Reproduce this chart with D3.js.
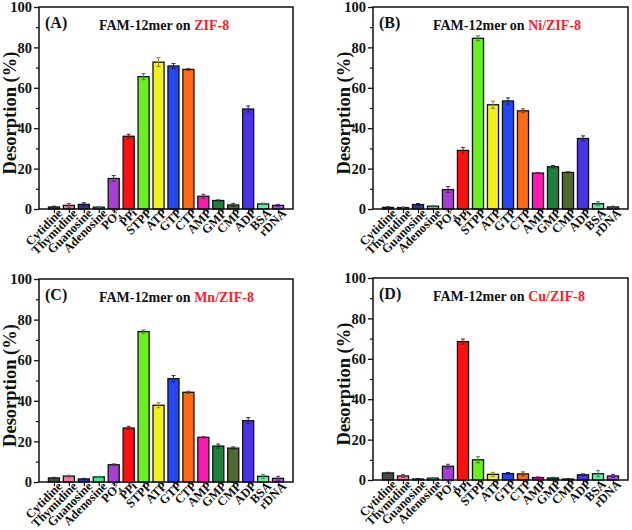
<!DOCTYPE html>
<html><head><meta charset="utf-8">
<script src="https://cdn.jsdelivr.net/npm/d3@7/dist/d3.min.js"></script>
<style>body{margin:0;background:#fff}svg{display:block}text{font-family:"Liberation Serif","Times New Roman",serif;font-weight:bold}</style>
</head><body>
<script>
const categories = ["Cytidine","Thymidine","Guanosine","Adenosine","PO4","PPi","STPP","ATP","GTP","CTP","AMP","GMP","CMP","ADP","BSA","rDNA"];
const barColors = ["#4a4a4a","#f27a9c","#3a2cb0","#3fe6a0","#a63fd4","#ff1010","#6af01e","#f2f020","#2446f4","#ff6a14","#ff18b4","#1f7f3c","#4f6a2e","#4a34e8","#56f5a4","#a552e6"];
const panelLetters = ["(A)","(B)","(C)","(D)"];
const materials = ["ZIF-8","Ni/ZIF-8","Mn/ZIF-8","Cu/ZIF-8"];
const valuesA = [1.0,1.8,2.3,0.9,15.1,36.0,65.5,72.7,70.8,69.1,6.3,4.2,2.0,49.5,2.5,1.8];
const errorsA = [0.4,0.9,0.8,0.3,1.5,1.0,1.5,2.2,1.2,0.5,1.0,0.3,0.8,1.5,0.4,0.5];
const valuesB = [0.8,0.7,2.2,1.4,9.6,29.0,84.5,51.6,53.5,48.6,17.8,20.9,18.1,34.9,2.6,1.0];
const errorsB = [0.3,0.3,0.5,0.3,1.5,1.5,1.2,1.8,1.5,1.0,0.3,0.6,0.3,1.3,1.0,0.4];
const valuesC = [2.0,2.9,1.5,2.5,8.5,26.6,74.1,37.8,50.9,44.2,22.0,17.7,16.7,30.2,2.8,1.8];
const errorsC = [0.3,0.4,0.3,0.3,0.4,0.8,0.8,1.2,1.5,0.5,0.3,1.0,0.6,1.5,1.0,1.0];
const valuesD = [3.5,2.0,0.5,0.9,6.8,68.5,10.0,2.8,3.2,3.0,1.2,1.0,0.5,2.6,3.1,2.0];
const errorsD = [0.3,0.8,0.2,0.3,1.0,1.3,1.5,1.0,0.5,1.0,0.3,0.3,0.2,0.4,1.5,0.8];
const yTicks = [0,20,40,60,80,100];
const yMinorTicks = [10,30,50,70,90];

const series = [[valuesA,errorsA],[valuesB,errorsB],[valuesC,errorsC],[valuesD,errorsD]];
const frames = [[39,7,293,209],[373,7,628,209],[39,279,293,482],[373,278,628,480]];

const svg = d3.select("body").append("svg").attr("width",632).attr("height",530);

series.forEach(([vals,errs],pi)=>{
  const [L,T,R,B] = frames[pi];
  const g = svg.append("g");
  const x = d3.scalePoint().domain(categories).range([L,R]).padding(1);
  const y = d3.scaleLinear().domain([0,100]).range([B,T]);
  const bw = x.step()*0.74;
  const data = categories.map((c,i)=>({c,v:vals[i],e:errs[i],col:barColors[i]}));

  g.selectAll("rect.bar").data(data).join("rect")
    .attr("x",d=>x(d.c)-bw/2).attr("y",d=>y(d.v))
    .attr("width",bw).attr("height",d=>y(0)-y(d.v))
    .attr("fill",d=>d.col).attr("stroke","#111").attr("stroke-width",1.3);
  const eg = g.selectAll("g.err").data(data).join("g")
    .attr("stroke",d=>d3.color(d.col).darker(1.6)).attr("stroke-width",1);
  eg.append("line").attr("x1",d=>x(d.c)).attr("x2",d=>x(d.c))
    .attr("y1",d=>y(d.v+d.e)).attr("y2",d=>y(Math.max(0,d.v-d.e)));
  eg.append("line").attr("x1",d=>x(d.c)-2).attr("x2",d=>x(d.c)+2)
    .attr("y1",d=>y(d.v+d.e)).attr("y2",d=>y(d.v+d.e));
  eg.append("line").attr("x1",d=>x(d.c)-2).attr("x2",d=>x(d.c)+2)
    .attr("y1",d=>y(Math.max(0,d.v-d.e))).attr("y2",d=>y(Math.max(0,d.v-d.e)));

  g.append("rect").attr("x",L).attr("y",T).attr("width",R-L).attr("height",B-T)
    .attr("fill","none").attr("stroke","#111").attr("stroke-width",1.5);

  const ya = g.append("g").attr("transform",`translate(${L},0)`)
    .call(d3.axisLeft(y).tickValues(yTicks).tickSize(5).tickPadding(2).tickFormat(d3.format("d")));
  ya.select(".domain").remove();
  ya.selectAll("line").attr("stroke","#111").attr("stroke-width",1.3);
  ya.selectAll("text").attr("font-size",14.5).attr("fill","#111")
    .style("font-family",'"Liberation Serif",serif').style("font-weight","bold");
  const ym = g.append("g").attr("transform",`translate(${L},0)`)
    .call(d3.axisLeft(y).tickValues(yMinorTicks).tickSize(3).tickFormat(""));
  ym.select(".domain").remove();
  ym.selectAll("line").attr("stroke","#111").attr("stroke-width",1.2);

  const xa = g.append("g").attr("transform",`translate(0,${B})`)
    .call(d3.axisBottom(x).tickSize(4).tickFormat(""));
  xa.select(".domain").remove();
  xa.selectAll("line").attr("stroke","#111").attr("stroke-width",1.2);
  categories.forEach(c=>{
    const t = g.append("text").attr("text-anchor","end").attr("font-size",12.5).attr("fill","#111")
      .attr("transform",`translate(${x(c)+9},${B+5}) rotate(-45)`);
    if(c==="PO4"){
      t.append("tspan").text("PO");
      t.append("tspan").attr("font-size",7.5).attr("dy",3).text("4");
      t.append("tspan").attr("font-size",7.5).attr("dx",-4).attr("dy",-8).text("3-");
      t.append("tspan").attr("font-size",1).attr("dy",5).text(" ");
    } else t.text(c);
  });

  g.append("text").attr("text-anchor","middle").attr("font-size",18.5).attr("fill","#111")
    .attr("transform",`translate(${L-23},${(T+B)/2+5}) rotate(-90)`).text("Desorption (%)");

  g.append("text").attr("x",L+6).attr("y",T+21).attr("font-size",16).attr("fill","#111").text(panelLetters[pi]);
  const tt = g.append("text").attr("x",L+60).attr("y",T+23).attr("font-size",14).attr("fill","#111");
  tt.append("tspan").text("FAM-12mer on ");
  tt.append("tspan").attr("fill","#ff1a2a").text(materials[pi]);
});
</script>
</body></html>
